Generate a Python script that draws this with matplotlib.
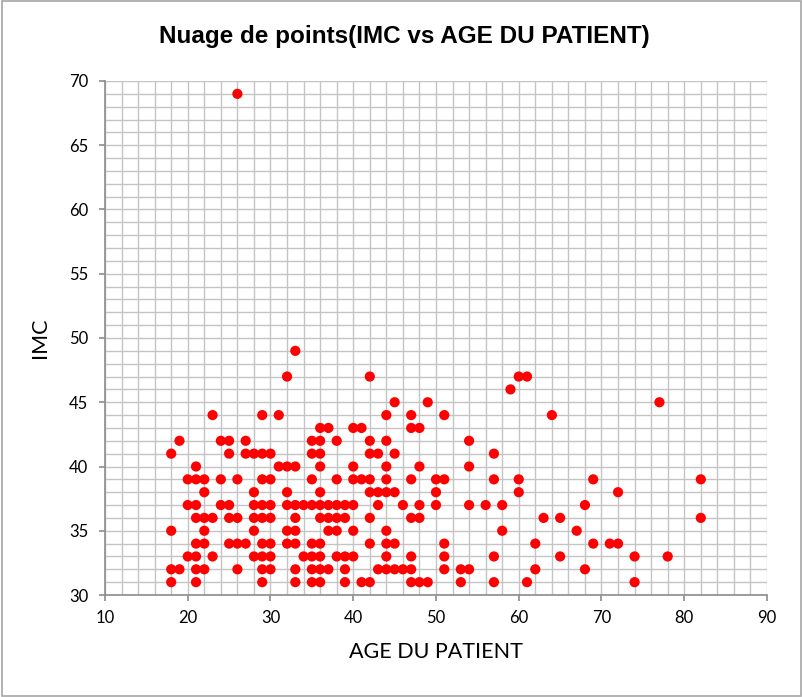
import numpy as np
import matplotlib.pyplot as plt
from matplotlib.patches import Rectangle
from matplotlib.ticker import MultipleLocator

# ages (x) and IMC (y), grouped by age
age = [18, 18, 18, 18, 19, 19, 20, 20, 20,
       21, 21, 21, 21, 21, 21, 21, 21,
       22, 22, 22, 22, 22, 22, 23, 23, 23, 24, 24, 24,
       25, 25, 25, 25, 25, 26, 26, 26, 26, 26, 27, 27, 27,
       28, 28, 28, 28, 28, 28,
       29, 29, 29, 29, 29, 29, 29, 29, 29,
       30, 30, 30, 30, 30, 30, 30, 31, 31,
       32, 32, 32, 32, 32, 32,
       33, 33, 33, 33, 33, 33, 33, 33, 34, 34,
       35, 35, 35, 35, 35, 35, 35, 35,
       36, 36, 36, 36, 36, 36, 36, 36, 36, 36, 36,
       37, 37, 37, 37, 37, 38, 38, 38, 38, 38, 38,
       39, 39, 39, 39, 39, 40, 40, 40, 40, 40, 40, 41, 41, 41,
       42, 42, 42, 42, 42, 42, 42, 42, 43, 43, 43, 43,
       44, 44, 44, 44, 44, 44, 44, 44, 44,
       45, 45, 45, 45, 45, 46, 46,
       47, 47, 47, 47, 47, 47, 47, 48, 48, 48, 48, 48, 49, 49,
       50, 50, 50, 51, 51, 51, 51, 51, 53, 53, 54, 54, 54, 54,
       56, 57, 57, 57, 57, 58, 58, 59, 60, 60, 60, 61, 61, 62, 62,
       63, 64, 65, 65, 67, 68, 68, 69, 69, 71, 72, 72, 74, 74,
       77, 78, 82, 82]
imc = [41, 35, 32, 31, 42, 32, 39, 37, 33,
       40, 39, 37, 36, 34, 33, 32, 31,
       39, 38, 36, 35, 34, 32, 44, 36, 33, 42, 39, 37,
       42, 41, 37, 36, 34, 69, 39, 36, 34, 32, 42, 41, 34,
       41, 38, 37, 36, 35, 33,
       44, 41, 39, 37, 36, 34, 33, 32, 31,
       41, 39, 37, 36, 34, 33, 32, 44, 40,
       47, 40, 38, 37, 35, 34,
       49, 40, 37, 36, 35, 34, 32, 31, 37, 33,
       42, 41, 39, 37, 34, 33, 32, 31,
       43, 42, 41, 40, 38, 37, 36, 34, 33, 32, 31,
       43, 37, 36, 35, 32, 42, 39, 37, 36, 35, 33,
       37, 36, 33, 32, 31, 43, 40, 39, 37, 35, 33, 43, 39, 31,
       47, 42, 41, 39, 38, 36, 34, 31, 41, 38, 37, 32,
       44, 42, 40, 39, 38, 35, 34, 33, 32,
       45, 41, 38, 34, 32, 37, 32,
       44, 43, 39, 36, 33, 32, 31, 43, 40, 37, 36, 31, 45, 31,
       39, 38, 37, 44, 39, 34, 33, 32, 32, 31, 42, 40, 37, 32,
       37, 41, 39, 33, 31, 37, 35, 46, 47, 39, 38, 47, 31, 34, 32,
       36, 44, 36, 33, 35, 37, 32, 39, 34, 34, 38, 34, 33, 31,
       45, 33, 39, 36]

title = "Nuage de points(IMC vs AGE DU PATIENT)"
xlabel = "AGE DU PATIENT"
ylabel = "IMC"

fig = plt.figure(figsize=(8.03, 6.97), dpi=100)
ax = fig.add_axes([105 / 803, 1 - 595 / 697, 662 / 803, 514 / 697])

ax.scatter(age, imc, s=54, color="#ff0000", edgecolors="none", zorder=3, clip_on=False)

ax.set_xlim(10, 90)
ax.set_ylim(30, 70)
ax.xaxis.set_major_locator(MultipleLocator(10))
ax.xaxis.set_minor_locator(MultipleLocator(2))
ax.yaxis.set_major_locator(MultipleLocator(5))
ax.yaxis.set_minor_locator(MultipleLocator(1))
ax.grid(which="both", color="#c4c4c4", lw=1.0, zorder=0)
ax.set_axisbelow(True)

for s in ["top", "right"]:
    ax.spines[s].set_visible(False)
for s in ["left", "bottom"]:
    ax.spines[s].set_color("#8c8c8c")
    ax.spines[s].set_linewidth(1.2)

tick_font = "Lato"
ax.tick_params(which="major", direction="out", length=4, width=1.2, color="#8c8c8c",
               labelsize=12, pad=7)
ax.tick_params(which="minor", length=0)
ax.tick_params(axis="y", pad=8)
for lab in ax.get_xticklabels() + ax.get_yticklabels():
    lab.set_fontfamily(tick_font)

ax.set_xlabel(xlabel, fontsize=15.5, family=tick_font)
ax.xaxis.label.set_va("center")
ax.xaxis.set_label_coords(0.5, -0.111)
ax.set_ylabel(ylabel, fontsize=15.5, family=tick_font)
ax.yaxis.label.set_va("center")
ax.yaxis.set_label_coords(-0.098, 0.5)

fig.text(404 / 803, 1 - 37 / 697, title, ha="center", va="center",
         fontsize=17.5, fontweight="bold", family="Liberation Sans")

# chart area border
fig.patches.append(Rectangle((0.002, 0.002), 0.996, 0.996, transform=fig.transFigure,
                             fill=False, edgecolor="#a6a6a6", lw=1.2))

fig.savefig("out.png", dpi=100)
